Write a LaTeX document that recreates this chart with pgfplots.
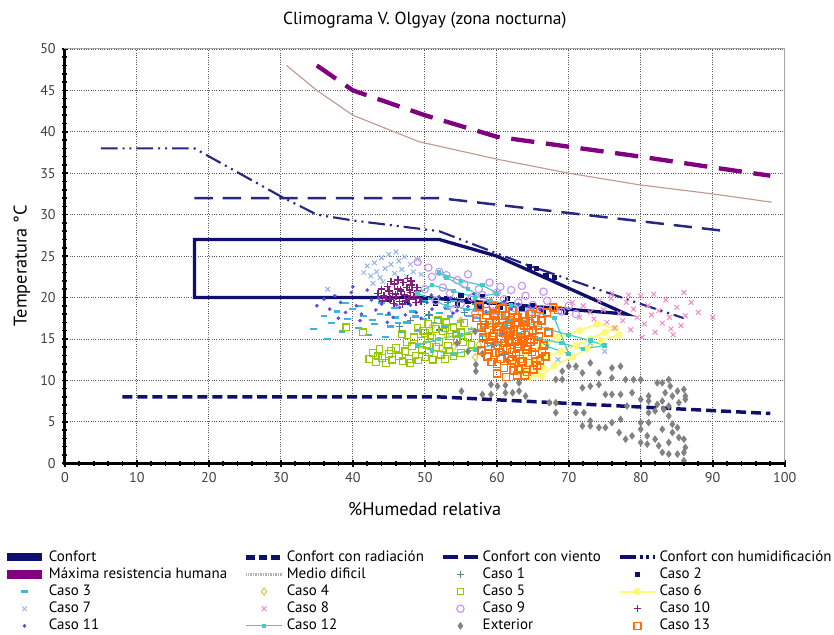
\documentclass[border=0pt]{standalone}
\usepackage{fontspec}
\setmainfont{PT Sans}
\usepackage{pgfplots}
\pgfplotsset{compat=1.18}
\definecolor{cnavy}{RGB}{15,15,110}
\definecolor{cnavy2}{RGB}{40,40,130}
\definecolor{cpurple}{RGB}{128,0,128}
\definecolor{crosy}{RGB}{195,155,145}
\definecolor{cteal}{RGB}{80,135,135}
\definecolor{csky}{RGB}{60,180,225}
\definecolor{colive}{RGB}{215,200,70}
\definecolor{cygreen}{RGB}{150,200,0}
\definecolor{cyellow}{RGB}{255,248,120}
\definecolor{clblue}{RGB}{150,180,230}
\definecolor{cpink}{RGB}{240,140,200}
\definecolor{clav}{RGB}{200,150,240}
\definecolor{cpurp2}{RGB}{130,30,130}
\definecolor{cviolet}{RGB}{90,80,220}
\definecolor{cturq}{RGB}{64,205,195}
\definecolor{cgray}{RGB}{130,130,130}
\definecolor{corange}{RGB}{255,110,10}
\begin{document}
\begin{tikzpicture}
\begin{axis}[
 name=ax,
 scale only axis, width=432.6pt, height=249pt,
 xmin=0, xmax=100, ymin=0, ymax=50,
 xtick={0,10,...,100}, ytick={0,5,...,50},
 minor x tick num=4, minor y tick num=4,
 grid=major, major grid style={densely dotted, black!65, line width=0.5pt},
 axis line style={black!35, line width=0.6pt},
 tick pos=left, tick align=center,
 major tick length=4pt, minor tick length=3pt,
 tick style={black, line width=1pt},
 ticklabel style={font=\fontsize{8.5}{10}\selectfont, text=black!75},
 /pgf/number format/assume math mode=true,
 title={Climograma V. Olgyay (zona nocturna)},
 title style={font=\fontsize{10.5}{12}\selectfont, yshift=3pt},
 xlabel={\%Humedad relativa},
 xlabel style={font=\fontsize{11}{13}\selectfont, at={(axis description cs:0.5,0)}, anchor=center, yshift=-27.6pt},
 ylabel={Temperatura °C},
 ylabel style={font=\fontsize{11}{13}\selectfont, at={(axis description cs:-0.0596,0.477)}, anchor=center},
 legend columns=4,
 legend cell align=left,
 legend style={at={(axis description cs:-0.087,-0.205)}, anchor=north west, draw=none, fill=none,
   font=\fontsize{9}{10}\selectfont, inner sep=0pt,
   nodes={inner ysep=1.2pt, inner xsep=1.5pt},
   /tikz/every even column/.append style={column sep=8.5pt}},
 legend image code/.code={\draw[mark repeat=2,mark phase=2,#1] plot coordinates {(0cm,0cm) (0.375cm,0cm) (0.75cm,0cm)};},
 after end axis/.code={\draw[black, line width=1.8pt] (rel axis cs:0,1) -- (rel axis cs:0,0) -- (rel axis cs:1,0);},
]
% Confort
\addplot[cnavy, line width=2pt, line join=miter, line cap=rect, forget plot] coordinates {(18,20)(18,27)(52,27)(60,25)(78,18)(50,20)(18,20)};
\addlegendimage{cnavy, line width=5pt}
\addlegendentry{Confort}
% Confort con radiacion
\addplot[cnavy, line width=2.1pt, dash pattern=on 6pt off 3pt, forget plot] coordinates {(8,8)(52,8)(98,6)};
\addlegendimage{cnavy, line width=3pt, dash pattern=on 5pt off 2.5pt}
\addlegendentry{Confort con radiación}
% Confort con viento
\addplot[cnavy2, line width=1.5pt, dash pattern=on 11pt off 6pt, forget plot] coordinates {(18,32)(52,32)(92,28)};
\addlegendimage{cnavy, line width=2.5pt, dash pattern=on 9pt off 4pt}
\addlegendentry{Confort con viento}
% Confort con humidificacion
\addplot[cnavy2, line width=1.3pt, dash pattern=on 10pt off 3pt on 1.2pt off 3pt on 1.2pt off 3pt, forget plot] coordinates {(5,38)(18,38)(30,32.2)(35,30)(40,29.3)(52,28)(64,24)(78,19.8)(86,17.5)};
\addlegendimage{cnavy, line width=2.5pt, dash pattern=on 10pt off 2pt on 2pt off 2pt on 2pt off 2pt}
\addlegendentry{Confort con humidificación}
% Maxima resistencia humana
\addplot[cpurple, line width=2.6pt, dash pattern=on 14pt off 7pt, forget plot] coordinates {(35,48)(40,45)(50,42)(60,39.4)(70,38.2)(80,37)(90,35.7)(98,34.7)};
\addlegendimage{cpurple, line width=5pt}
\addlegendentry{Máxima resistencia humana}
% Medio dificil
\addplot[crosy, line width=0.7pt, forget plot] coordinates {(30.8,48)(35,45)(40,42)(49.2,38.8)(60,36.7)(70,35)(79.8,33.6)(90,32.5)(98.2,31.5)};
\addlegendimage{black!30, line width=1.5pt, dash pattern=on 0.4pt off 0.6pt}
\addlegendentry{Medio dificil}
% Caso 1
\addplot[only marks, mark=+, mark size=2.2pt, cteal, line width=0.9pt, mark options={draw=cteal}] coordinates {(48,17.2)(52,16.1)(55.5,18.2)(58,14.9)(61,13.2)(53.2,19.4)(50.6,17.9)(57,19.2)(63.5,16.9)(46.5,16.5)};
\addlegendentry{Caso 1}
% Caso 2
\addplot[only marks, mark=square*, mark size=1.3pt, cnavy] coordinates {(50,19.8)(51.5,19.3)(53,19.9)(54.5,19.1)(56,19.6)(57.5,18.9)(59,19.4)(60.5,18.8)(62,19.2)(63.5,18.6)(65,19)(66.5,18.4)(68,18.7)(69.5,18.2)(55,20.3)(58,20.1)(61.5,19.9)(64.5,23.7)(65.5,23.5)(66.8,22.6)(68,22.4)(45,19.8)(47.5,19.4)};
\addlegendentry{Caso 2}
% Caso 3
\addplot[only marks, mark=-, mark size=2pt, csky, line width=1.4pt] coordinates {(36,17.8)(37,16.9)(37.8,18.3)(38.5,15.9)(39.3,17.4)(40,18.6)(40.8,16.3)(41.5,17.8)(42.2,15.5)(43,16.8)(43.8,18)(44.5,15.2)(45.2,16.5)(46,17.6)(46.8,15.8)(47.5,17)(48.3,18.3)(49,16.1)(49.8,17.4)(50.5,15.6)(51.3,16.9)(52,18.1)(52.8,16.4)(53.5,17.7)(54.3,15.9)(55,17.1)(55.8,18.5)(56.5,16.2)(57.3,17.5)(58,15.4)(59,16.8)(60,18)(61,16.5)(62,17.3)(47,19.2)(50,19.5)(44,19.4)(54,19.6)(34.5,16.2)(36.5,15)(41,19)(45.8,18.7)(39,19.3)(42.7,17.3)(44.9,17.9)(46.3,16.9)(48.7,17.7)(51.7,17.5)(53.1,18.6)(56.1,17.8)};
\addlegendentry{Caso 3}
% Caso 4
\addplot[only marks, mark=diamond, mark size=2.2pt, colive, line width=0.6pt] coordinates {(51,16.5)(53,15.5)(55,17.2)(56.5,16)(57.5,14.3)(58.5,15.5)(54,14)(60.5,13.7)(52.3,13.9)(59.5,17)(62,15.5)(57,12.8)};
\addlegendentry{Caso 4}
% Caso 5
\addplot[only marks, mark=square, mark size=2pt, cygreen, line width=0.7pt] coordinates {(42.3,12.6)(42.8,13.3)(43.2,12.2)(43.7,13.8)(44.1,12.7)(44.6,12.1)(45,13.2)(45.5,12.5)(46,13.9)(46.4,12.9)(46.9,12.3)(47.3,13.5)(47.8,12.6)(48.2,14.1)(48.7,13)(49.1,12.4)(49.6,13.7)(50.1,12.8)(50.6,13.4)(51.1,12.5)(51.6,14)(52.2,13.1)(52.8,12.6)(53.4,13.6)(54,12.9)(55,13.3)(43.5,12.9)(45.3,13.6)(48,12.1)(50.3,14.3)(39.1,16.4)(41.4,15.8)(48.5,15.2)(49,16.3)(49.5,14.8)(50,15.7)(50.5,16.8)(51,15.1)(51.5,16.2)(52,14.6)(52.5,15.9)(53,17)(53.5,15.3)(54,16.4)(54.5,14.9)(55,15.8)(55.5,16.9)(56,15.2)(56.5,14.3)(53.2,14.2)(51.8,17.3)(47.5,14.6)(46.8,15.6)(49.8,16)(50.8,15.4)(52.8,16.3)(54.3,15.6)(55.3,14.6)};
\addlegendentry{Caso 5}
% Caso 6
\addplot[cyellow, line width=1.2pt, mark=*, mark size=1.6pt] coordinates {(63,11)(64.5,10.3)(65.5,10.8)(66.5,11.5)(65,12.2)(67,12.8)(69,13.5)(71,14.2)(73,15)(75,15.8)(76.5,16.3)(74,16.8)(71.5,16)(68.5,15.2)(66,14)(64,13)(62.5,12)(64,11.2)(66.2,10.5)(68,11.8)(70.5,12.8)(72.5,13.8)(74.5,14.8)(77,15.5)};
\addlegendentry{Caso 6}
% Caso 7
\addplot[only marks, mark=x, mark size=2pt, clblue, line width=0.6pt] coordinates {(41.5,23)(42,23.8)(42.5,22.6)(43,24.2)(43.3,23.1)(43.8,22.4)(44,24.8)(44.5,23.5)(45,25.2)(45.3,24)(45.8,22.9)(46,25.5)(46.4,24.4)(46.8,23.4)(47.2,24.9)(47.5,22.5)(48,24)(48.4,23.1)(49,24.6)(49.5,22.8)(44.2,21.9)(42.8,21.7)(36.5,21)(71,11.5)(68.5,12.5)(73,14.5)(75,13.5)};
\addlegendentry{Caso 7}
% Caso 8
\addplot[only marks, mark=x, mark size=2pt, cpink, line width=0.6pt] coordinates {(72,19)(73,18.2)(73.5,17.4)(74.2,19.6)(74.8,18.5)(75.3,17)(75.9,19.9)(76.4,16.3)(77,18.1)(77.5,17.2)(78,19.4)(78.6,16.1)(79,18.6)(79.5,17.6)(80,20.2)(80.5,16.8)(81,19)(81.5,17.9)(82,15.8)(82.5,18.4)(83,16.9)(83.5,19.7)(84,17.6)(84.5,15.5)(85,18.8)(85.6,16.6)(86.2,17.8)(87,19.4)(88,18.2)(90,17.6)(76,20.5)(78.3,20.3)(86,20.6)(81.8,20.4)(84.2,16.2)(80.2,15.2)(70.5,19.4)(71.5,17.6)};
\addlegendentry{Caso 8}
% Caso 9
\addplot[only marks, mark=o, mark size=2.2pt, clav, line width=0.7pt] coordinates {(49,24.3)(50.5,23.6)(51,22.5)(52,23.1)(53,22.7)(54.5,22.1)(55.5,21.6)(56,22.8)(57.5,21)(58,20.3)(59,21.8)(60,20.6)(61,19.8)(62,20.9)(63,19.4)(64,20.2)(65,19.1)(66,18.4)(67,19.6)(68,18.8)(69,18.3)(70,19)(71,18)(60.5,21.3)(62.5,18.7)(58.5,19.2)(56.5,20)(55,19.2)(53.5,20.5)(52.5,21.2)(54,18.6)(51.5,19.6)(63.5,21.4)(57,18.1)(66.5,20.7)(64.5,18.2)(50,21)(59.5,18.3)};
\addlegendentry{Caso 9}
% Caso 10
\addplot[only marks, mark=+, mark size=2.2pt, cpurp2, line width=0.9pt, mark options={draw=cpurp2}] coordinates {(43.5,20.5)(44,21)(44.3,20.2)(44.8,21.3)(45,20.8)(45.2,19.8)(45.5,20.5)(45.8,21.6)(46,20.1)(46.2,21)(46.5,19.5)(46.7,20.7)(47,21.8)(47.2,20.3)(47.5,21.2)(47.8,19.8)(48,20.6)(48.2,21.5)(48.5,20.1)(48.8,19.4)(49,20.8)(49.3,19.9)(44.6,19.9)(45.7,19.3)(46.9,19.2)(47.6,22.3)(48.1,22)(45.3,21.9)(44.1,19.6)(46.3,22.1)(49.5,19.5)(48.9,21.2)(47.3,19.6)(45.9,20.4)(46.6,20.9)(47.9,20.9)};
\addlegendentry{Caso 10}
% Caso 11
\addplot[only marks, mark=*, mark size=0.9pt, cviolet] coordinates {(35,19)(36,19.8)(36.8,18.6)(37.5,20.2)(38.3,19.4)(39,18.2)(39.8,20.6)(40.5,19)(41.2,18)(42,20.9)(42.6,19.7)(43.2,18.5)(44,19.2)(45,18.1)(45.6,17.6)(46.5,18.8)(47.3,17.9)(48,19.1)(48.8,18.2)(49.5,17.5)(50.3,19.4)(51,18.6)(52,20.1)(52.8,18.8)(53.6,19.9)(54.5,18.4)(55.2,19.6)(56,18.9)(56.8,20.4)(57.6,19.2)(58.5,18.3)(59.2,19.7)(60,18.8)(61,19.5)(62,18.6)(63,19.2)(64.5,18.9)(66,18.5)(38,17.5)(41,17.2)(44.8,17)(40,21.3)(43.6,19.9)(46.1,19.1)(50.9,20.3)(53.9,18.1)(57.3,18.6)};
\addlegendentry{Caso 11}
% Caso 12
\addplot[cturq, line width=0.7pt, mark=square*, mark size=1pt] coordinates {(52,23)(55,22)(58,21.5)(60,20.5)(57,20)(54,20.8)(51,21.5)(49,20.5)(53,19)(57,18.5)(61,17.8)(64,17)(67,16.2)(70,15.5)(73,14.8)(75,14.2)(72,13.8)(69,14.5)(66,15)(63,15.6)(60,14.4)(57,13.7)(54,13.2)(51,13.6)(49,14.2)(52,15)(55,15.5)(58,16.3)(61,16.8)(64,16.1)(67,14.1)(70,13.2)(68,17.5)(65,18.4)(62,19.1)(59,19.6)(56,21)(53,22.4)};
\addlegendentry{Caso 12}
% Exterior
\addplot[only marks, mark=diamond*, mark size=2pt, cgray] coordinates {(57.1,11.9)(57.1,11.1)(55.1,8.7)(58,8.3)(59.2,8.3)(59.2,9.5)(60.1,9.3)(61.2,9.4)(61.2,8.5)(62.2,8.5)(63.1,8.7)(63.1,9.7)(64,8.1)(67.3,7.3)(68.2,7.3)(68.2,6.1)(68.2,10.1)(69.1,10.1)(69.1,11.1)(70,11.7)(71,11.7)(71.9,10.9)(71.9,9.1)(73,9.3)(74.2,9.5)(73,12.1)(74.2,10.9)(76,11.5)(77.2,11.7)(76,10.3)(76,8.3)(77.2,8.3)(75.1,8.3)(71,6.1)(72.1,6.1)(71.9,4.5)(73,5.1)(73,4.5)(74.2,4.3)(75.1,4.3)(76,4.9)(77.2,5.3)(77,3.7)(77.9,2.9)(78.8,3.3)(80,4.1)(80,2.5)(80.9,3.3)(80.9,2.3)(82,2.9)(82.5,2.1)(83,1.3)(83.9,1.1)(85.1,1.1)(86,1.3)(86,2.9)(86,0.3)(86.2,1.9)(85.3,3.1)(85.1,4.3)(84.4,4.7)(83.9,5.7)(83.2,6.5)(83.9,6.9)(84.4,8.1)(83.4,8.5)(83,9.7)(83.9,10.1)(84.1,9.3)(85.1,8.7)(86,8.9)(86.2,8.1)(86.2,7.7)(85.3,7.3)(82.3,9.7)(81.1,8.1)(81.1,7.5)(81.1,6.1)(82,6.3)(82.3,7.1)(83,7.5)(80,7.7)(78.8,8.5)(79,10.1)(80,10.1)(77.9,10.1)(78.1,6.9)(80,4.9)(81.1,4.9)(84.4,3.7)(83.9,2.5)(83,4.1)(58,13.2)(59.5,14.3)(61.5,12.4)(56,13.5)(60.8,15.6)(54.5,14.5)(57,15.9)};
\addlegendentry{Exterior}
% Caso 13
\addplot[only marks, mark=square, mark size=2.1pt, corange, line width=0.9pt] coordinates {(57.2,17.5)(57.8,16.4)(58.1,15.2)(58.5,17.9)(58.9,16.1)(59.2,14.6)(59.6,15.7)(59.9,17.2)(60.3,16.5)(60.6,15)(60.9,13.9)(61.2,17.8)(61.5,16.2)(61.8,14.8)(62.1,13.4)(62.3,15.6)(62.6,17)(62.9,14.1)(63.2,12.6)(63.5,15.2)(63.8,16.6)(64.1,13.7)(64.4,12.1)(64.7,14.6)(65,16)(65.3,13.1)(65.6,11.8)(65.9,15.3)(66.2,17.2)(66.5,14.2)(63,11.3)(62.4,12)(61.7,12.8)(61,11.5)(60.5,12.6)(59.8,13.3)(59.3,12.2)(60,10.8)(61.3,10.4)(62.8,10.6)(64.2,11)(66.8,12.9)(67.2,15.8)(67,18.2)(66,18.6)(64.8,18)(63.6,17.9)(62.2,18.4)(60.8,18.7)(59.5,18.9)(58.6,18.4)(57.6,18.9)(60.2,14.2)(61.6,15.4)(63.1,14.4)(64.5,15.8)(62,16.7)(60.7,16.9)(59,16.9)(65.4,17.4)(57.9,13.6)(58.7,12.9)(67.8,18.8)(68.5,18.5)(66.3,13.5)(63.9,10.6)(58.8,14.1)(59.4,15.3)(60.1,16.1)(60.4,13.4)(61.1,14.5)(61.4,16.6)(61.9,17.3)(62.5,14.7)(62.7,13)(63.3,16.1)(63.7,14.8)(64,17.1)(64.3,14.1)(64.9,13.4)(65.2,14.9)(65.7,16.6)(66,12.4)(62.3,11.2)(63.6,12.3)(59.7,17.8)(58.3,16.7)(61.9,15.9)(60.9,15.8)(63.9,15.5)(64.6,16.9)(62.9,17.6)(61.4,13.7)(60,12)(65.1,11.3)(62.1,12.4)};
\addlegendentry{Caso 13}
\end{axis}
\path (ax.south west) ++(-39pt,-102.6pt) rectangle ++(500.4pt,381pt);
\end{tikzpicture}
\end{document}
